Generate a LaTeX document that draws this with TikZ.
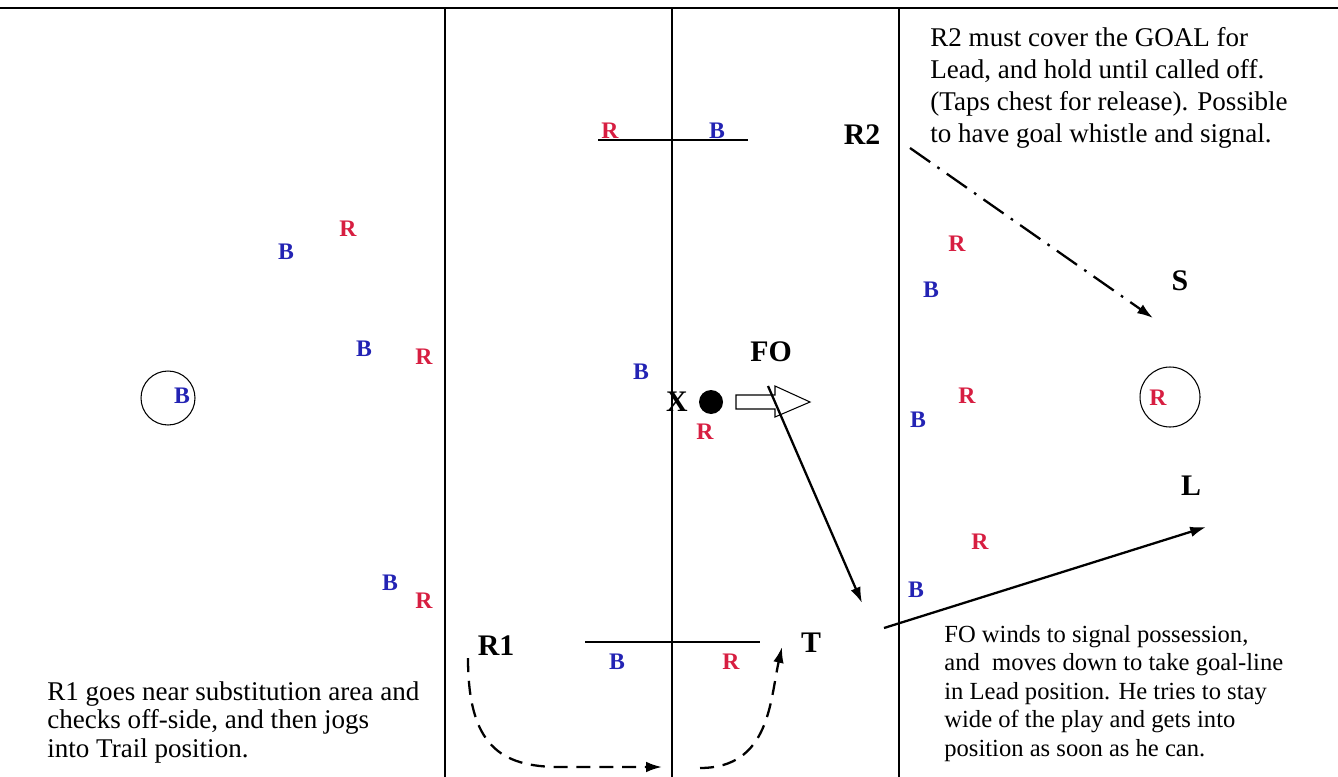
\documentclass[tikz,border=0pt]{standalone}
\usepackage{fontspec}
\setmainfont{Liberation Serif}
\usetikzlibrary{arrows.meta}
\definecolor{teamblue}{RGB}{35,35,180}
\definecolor{teamred}{RGB}{215,30,65}
\begin{document}
\begin{tikzpicture}[x=0.02cm, y=-0.02cm,
    blu/.style={text=teamblue, font=\bfseries\fontsize{13.5}{15}\selectfont, inner sep=0pt},
    red/.style={text=teamred, font=\bfseries\fontsize{13.5}{15}\selectfont, inner sep=0pt},
    ref/.style={font=\bfseries\fontsize{17}{19}\selectfont, inner sep=0pt},
    note/.style={anchor=north west, align=left, inner sep=0pt, font=\fontsize{14}{16.2}\selectfont},
    bignote/.style={note, font=\fontsize{15.4}{16.2}\selectfont},
    run/.style={-{Latex[length=9pt,width=6pt]}, line width=1.3pt}]
    \useasboundingbox (0,0) rectangle (1338,777);

    % Field lines
    \draw[line width=1.6pt] (0,8) -- (1338,8);
    \draw[line width=0.9pt] (445,8) -- (445,777);
    \draw[line width=0.9pt] (672,8) -- (672,777);
    \draw[line width=0.9pt] (899,8) -- (899,777);
    \draw[line width=0.8pt] (598,140) -- (748,140);
    \draw[line width=0.8pt] (585,642) -- (760,642);

    % Players, left area
    \node[blu] (bl1) at (286,252) {B};
    \node[red] (rl1) at (348,229) {R};
    \node[blu] (bl2) at (364,349) {B};
    \node[red] (rl2) at (424,357) {R};
    \node[blu] (glb) at (182,396) {B};
    \draw[line width=0.6pt] (168,398) circle (0.54cm);
    \node[blu] (bl3) at (390,583) {B};
    \node[red] (rl3) at (424,601) {R};

    % Players, centre area
    \node[red] (rc1) at (610,131) {R};
    \node[blu] (bc1) at (717,131) {B};
    \node[blu] (bc2) at (641,372) {B};
    \node[red] (rc2) at (705,432) {R};
    \node[blu] (bc3) at (617,662) {B};
    \node[red] (rc3) at (731,662) {R};

    % Players, right area
    \node[red] (rr1) at (957,244) {R};
    \node[blu] (br1) at (931,290) {B};
    \node[red] (rr2) at (967,396) {R};
    \node[blu] (br2) at (918,420) {B};
    \node[red] (rr3) at (980,542) {R};
    \node[blu] (br3) at (916,590) {B};
    \node[red] (grr) at (1158,398) {R};
    \draw[line width=0.6pt] (1170,397) circle (0.6cm);

    % Face-off: X, ball and hollow arrow
    \node[ref] (x) at (677,402) {X};
    \fill (711,402) circle (0.24cm);
    \draw[line width=0.6pt] (736,395) -- (775,395) -- (775,386) -- (810,402)
        -- (775,417) -- (775,409) -- (736,409) -- cycle;

    % Officials
    \node[ref] (fo) at (771,352) {FO};
    \node[ref] (r2) at (862,135) {R2};
    \node[ref] (s) at (1180,281) {S};
    \node[ref] (l) at (1191,486) {L};
    \node[ref] (r1) at (496,646) {R1};
    \node[ref] (t) at (811,643) {T};

    % Movements
    \coordinate (r2go) at (910,148);
    \coordinate (r2end) at (1153,318);
    \coordinate (fogo) at (768,386);
    \coordinate (foend) at (862,603);
    \coordinate (leadgo) at (884,628);
    \coordinate (leadend) at (1206,527);
    \coordinate (r1go) at (468,658);
    \coordinate (r1mid) at (662,767);
    \coordinate (r1on) at (700,768);
    \coordinate (trail) at (782,647);
    \draw[run, dash pattern=on 14pt off 5pt on 1.5pt off 5pt] (r2go) -- (r2end);
    \draw[run] (fogo) -- (foend);
    \draw[run] (leadgo) -- (leadend);
    \draw[run, dash pattern=on 8pt off 5pt] (r1go) .. controls (468,745) and (500,767) .. (560,767) -- (r1mid);
    \draw[run, dash pattern=on 8pt off 5pt] (r1on) .. controls (770,768) and (770,700) .. (trail);

    % Notes
    \node[note, font=\fontsize{15.4}{18.3}\selectfont] (n2) at (930,27) {R2 must cover the GOAL for\\Lead, and hold until called off.\\(Taps chest for release). Possible\\to have goal whistle and signal.};
    \node[bignote] (n1) at (47,681) {R1 goes near substitution area and\\checks off-side, and then jogs\\into Trail position.};
    \node[note] (nf) at (944,625) {FO winds to signal possession,\\and\ \ moves down to take goal-line\\in Lead position. He tries to stay\\wide of the play and gets into\\position as soon as he can.};
\end{tikzpicture}
\end{document}
